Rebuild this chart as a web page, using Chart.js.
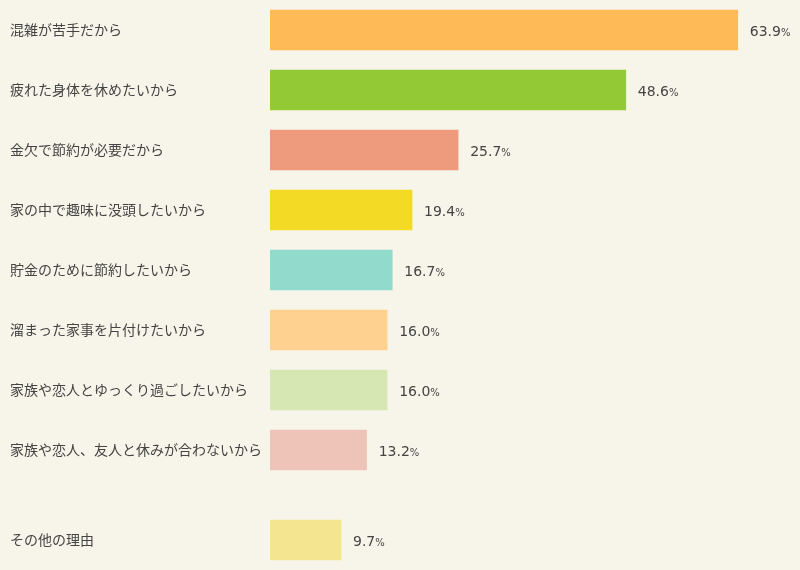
<!DOCTYPE html>
<html>
<head>
<meta charset="utf-8">
<script src="https://cdn.jsdelivr.net/npm/chart.js@4/dist/chart.umd.min.js"></script>
<style>
  html, body { margin: 0; padding: 0; background: #f7f5e9; }
  #wrap { width: 800px; height: 570px; }
</style>
</head>
<body>
<div id="wrap"><canvas id="chart"></canvas></div>
<script>
// Data
const labels = [
  '混雑が苦手だから',
  '疲れた身体を休めたいから',
  '金欠で節約が必要だから',
  '家の中で趣味に没頭したいから',
  '貯金のために節約したいから',
  '溜まった家事を片付けたいから',
  '家族や恋人とゆっくり過ごしたいから',
  '家族や恋人、友人と休みが合わないから',
  'その他の理由'
];
const values = [63.9, 48.6, 25.7, 19.4, 16.7, 16.0, 16.0, 13.2, 9.7];
// row positions (the last row sits after a half-row gap)
const rows = [0, 1, 2, 3, 4, 5, 6, 7, 8.5];
const colors = ['#ffba58', '#92c935', '#ee9a7d', '#f3da24', '#92dacb', '#ffd190', '#d7e7b4', '#eec4b8', '#f4e591'];

const FONT = '"Noto Sans CJK JP", "Noto Sans", sans-serif';
const NUM_FONT = '"DejaVu Sans", sans-serif';
const TEXT = '#444';

// Value labels: number plus a smaller percent sign on the same baseline
const valueLabels = {
  id: 'valueLabels',
  afterDatasetsDraw(chart) {
    const ctx = chart.ctx;
    const meta = chart.getDatasetMeta(0);
    ctx.save();
    ctx.fillStyle = TEXT;
    ctx.textBaseline = 'alphabetic';
    ctx.textAlign = 'left';
    meta.data.forEach((bar, i) => {
      const txt = values[i].toFixed(1);
      const x = bar.x + 12;
      const base = bar.y + 6;
      ctx.font = '14px ' + NUM_FONT;
      ctx.fillText(txt, x, base);
      const w = ctx.measureText(txt).width;
      ctx.font = '10px ' + NUM_FONT;
      ctx.fillText('%', x + w, base);
    });
    ctx.restore();
  }
};

new Chart(document.getElementById('chart'), {
  type: 'bar',
  data: {
    datasets: [{
      data: rows.map((r, i) => ({ x: values[i], y: r })),
      backgroundColor: colors,
      borderWidth: 0,
      barThickness: 40
    }]
  },
  options: {
    indexAxis: 'y',
    responsive: true,
    maintainAspectRatio: false,
    animation: false,
    layout: { padding: { left: 10, right: 0, top: 0, bottom: 0 } },
    plugins: { legend: { display: false }, tooltip: { enabled: false } },
    scales: {
      x: {
        type: 'linear',
        min: 0,
        max: 72.4,
        display: false
      },
      y: {
        type: 'linear',
        reverse: true,
        offset: false,
        min: -0.5,
        max: 9,
        grid: { display: false, drawTicks: false },
        border: { display: false },
        afterFit(scale) {
          scale.width = 260;
          scale.paddingTop = 0;
          scale.paddingBottom = 0;
        },
        afterBuildTicks(scale) { scale.ticks = rows.map(v => ({ value: v })); },
        ticks: {
          crossAlign: 'far',
          color: TEXT,
          font: { family: FONT, size: 14 },
          padding: 0,
          autoSkip: false,
          callback(value) {
            const i = rows.indexOf(value);
            return i >= 0 ? labels[i] : '';
          }
        }
      }
    }
  },
  plugins: [valueLabels]
});
</script>
</body>
</html>
